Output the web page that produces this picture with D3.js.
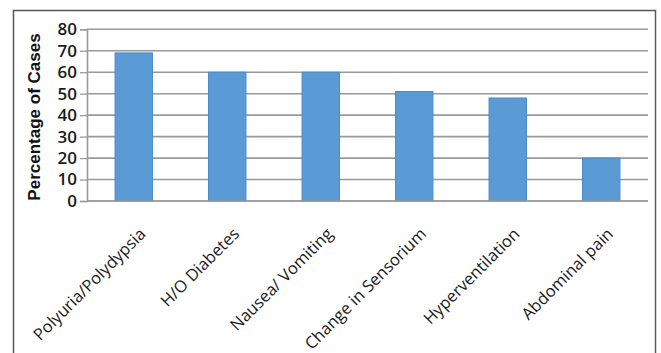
<!DOCTYPE html>
<html>
<head>
<meta charset="utf-8">
<script src="https://cdn.jsdelivr.net/npm/d3@7"></script>
<style>
  html, body { margin: 0; padding: 0; background: #fff; }
  svg { display: block; }
</style>
</head>
<body>
<svg id="chart" width="661" height="353"></svg>
<script>
const categories = ["Polyuria/Polydypsia", "H/O Diabetes", "Nausea/ Vomiting", "Change in Sensorium", "Hyperventilation", "Abdominal pain"];
const values = [69, 60, 60, 51, 48, 20];
const yTicks = [0, 10, 20, 30, 40, 50, 60, 70, 80];
const yTitle = "Percentage of Cases";

const svg = d3.select("#chart");
const plot = { left: 87, right: 648, top: 29.3, bottom: 201 };

// outer frame
svg.append("rect")
  .attr("x", 13.5).attr("y", 10.5)
  .attr("width", 655.5 - 13.5).attr("height", 360)
  .attr("fill", "#fff").attr("stroke", "#5a5a5a").attr("stroke-width", 1.5);

const x = d3.scaleBand().domain(categories).range([plot.left, plot.right]).padding(0);
const y = d3.scaleLinear().domain([0, 80]).range([plot.bottom, plot.top]);

// gridlines
svg.append("g").selectAll("line").data(yTicks).join("line")
  .attr("x1", plot.left).attr("x2", plot.right)
  .attr("y1", d => y(d)).attr("y2", d => y(d))
  .attr("stroke", "#9a9a9a").attr("stroke-width", 1.6);

// y axis
const yAxis = d3.axisLeft(y).tickValues(yTicks).tickSize(7).tickPadding(3).tickFormat(d3.format("d"));
const gy = svg.append("g").attr("transform", `translate(${plot.left},0)`).call(yAxis);
gy.select(".domain").attr("stroke", "#9a9a9a").attr("stroke-width", 1.6);
gy.selectAll(".tick line").attr("stroke", "#9a9a9a").attr("stroke-width", 1.3);
gy.selectAll(".tick text")
  .attr("font-family", "'Open Sans', 'Liberation Sans', sans-serif")
  .attr("font-size", 17).attr("font-weight", 600).attr("fill", "#1a1a1a");

// bars
const bw = x.bandwidth() * 0.4;
svg.append("g").selectAll("rect").data(values).join("rect")
  .attr("x", (d, i) => x(categories[i]) + (x.bandwidth() - bw) / 2)
  .attr("y", d => y(d))
  .attr("width", bw)
  .attr("height", d => y(0) - y(d))
  .attr("fill", "#5b9bd5")
  .attr("stroke", "#4a8ac8").attr("stroke-width", 1);

// x axis line
svg.append("line")
  .attr("x1", plot.left).attr("x2", plot.right)
  .attr("y1", y(0)).attr("y2", y(0))
  .attr("stroke", "#9a9a9a").attr("stroke-width", 1.6);

// x labels
const xAxis = d3.axisBottom(x).tickSize(0).tickPadding(0);
const gx = svg.append("g").attr("transform", `translate(0,${plot.bottom})`).call(xAxis);
gx.select(".domain").remove();
gx.selectAll(".tick text")
  .attr("font-family", "'Open Sans', 'Liberation Sans', sans-serif")
  .attr("font-size", 16.5).attr("fill", "#1a1a1a")
  .attr("text-anchor", "end")
  .attr("dy", 0)
  .attr("transform", "translate(13,34) rotate(-45)")
  .attr("y", 0).attr("x", 0);

// y title
svg.append("text")
  .attr("transform", `translate(40,117) rotate(-90)`)
  .attr("text-anchor", "middle")
  .attr("font-family", "'Liberation Sans', Arial, sans-serif")
  .attr("font-weight", "bold").attr("font-size", 17).attr("fill", "#111")
  .text(yTitle);
</script>
</body>
</html>
